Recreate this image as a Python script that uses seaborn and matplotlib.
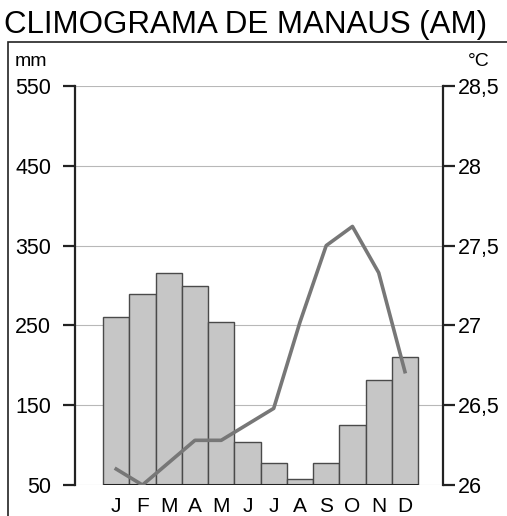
import matplotlib
matplotlib.use("Agg")
import matplotlib.pyplot as plt
from matplotlib.patches import Rectangle
import seaborn as sns

months = ["J", "F", "M", "A", "M", "J", "J", "A", "S", "O", "N", "D"]
rain_mm = [260, 289, 316, 300, 254, 104, 78, 58, 78, 125, 182, 210]
temp_c = [26.1, 26.0, 26.14, 26.28, 26.28, 26.38, 26.48, 27.02, 27.5, 27.62, 27.33, 26.71]
mm_ticks = [50, 150, 250, 350, 450, 550]
c_ticks = [26, 26.5, 27, 27.5, 28, 28.5]
c_labels = ["26", "26,5", "27", "27,5", "28", "28,5"]

plt.rcParams['font.family'] = ['Liberation Sans', 'DejaVu Sans']

fig = plt.figure(figsize=(5.07, 5.16), dpi=100)
ax = fig.add_axes([75/507, 1 - 485/516, (443 - 75)/507, (485 - 86)/516])

idx = list(range(len(months)))
sns.barplot(x=idx, y=rain_mm, color="#c6c6c6", saturation=1, width=1,
            edgecolor="#4a4a4a", linewidth=1.0, ax=ax, zorder=2)
ax.hlines(mm_ticks[0], -0.5, len(months) - 0.5, color="#222222", lw=2.2, zorder=3)

ax.set_ylim(mm_ticks[0], mm_ticks[-1])
ax.set_yticks(mm_ticks)
ax.set_yticklabels([str(v) for v in mm_ticks])
ax.set_xticks(idx)
ax.set_xticklabels(months)
ax.set_xlabel("")
ax.set_ylabel("")
ax.yaxis.grid(True, color="#b8b8b8", lw=0.8)
ax.set_axisbelow(True)
for s in ["top", "bottom", "right"]:
    ax.spines[s].set_visible(False)
ax.spines["left"].set_color("#222222")
ax.spines["left"].set_linewidth(1.6)
ax.tick_params(axis="y", direction="out", length=8.6, width=1.6, color="#222222",
               labelsize=15.5, pad=8.5)
ax.tick_params(axis="x", length=0, labelsize=15, pad=9)

ax2 = ax.twinx()
sns.lineplot(x=idx, y=temp_c, color="#777777", lw=2.6, ax=ax2)
ax2.set_ylim(c_ticks[0], c_ticks[-1])
ax2.set_yticks(c_ticks)
ax2.set_yticklabels(c_labels)
ax2.set_ylabel("")
for s in ["top", "bottom", "left"]:
    ax2.spines[s].set_visible(False)
ax2.spines["right"].set_color("#222222")
ax2.spines["right"].set_linewidth(1.6)
ax2.tick_params(axis="y", direction="out", length=8.6, width=1.6, color="#222222",
                labelsize=15.5, pad=2)

ax.set_xlim(-1.57, 12.45)

fig.text(4/507, 1 - 33/516, "CLIMOGRAMA DE MANAUS (AM)", fontsize=22.5,
         ha="left", va="baseline")
fig.text(15/507, 1 - 61/516, "mm", fontsize=14, ha="left", va="center")
fig.text(468/507, 1 - 61/516, "°C", fontsize=14, ha="left", va="center")
fig.patches.append(Rectangle((8/507, -0.05), 1.0, (516 - 42)/516 + 0.05,
                             transform=fig.transFigure, fill=False,
                             edgecolor="#222222", lw=1.2))

fig.savefig("out.png", dpi=100)
